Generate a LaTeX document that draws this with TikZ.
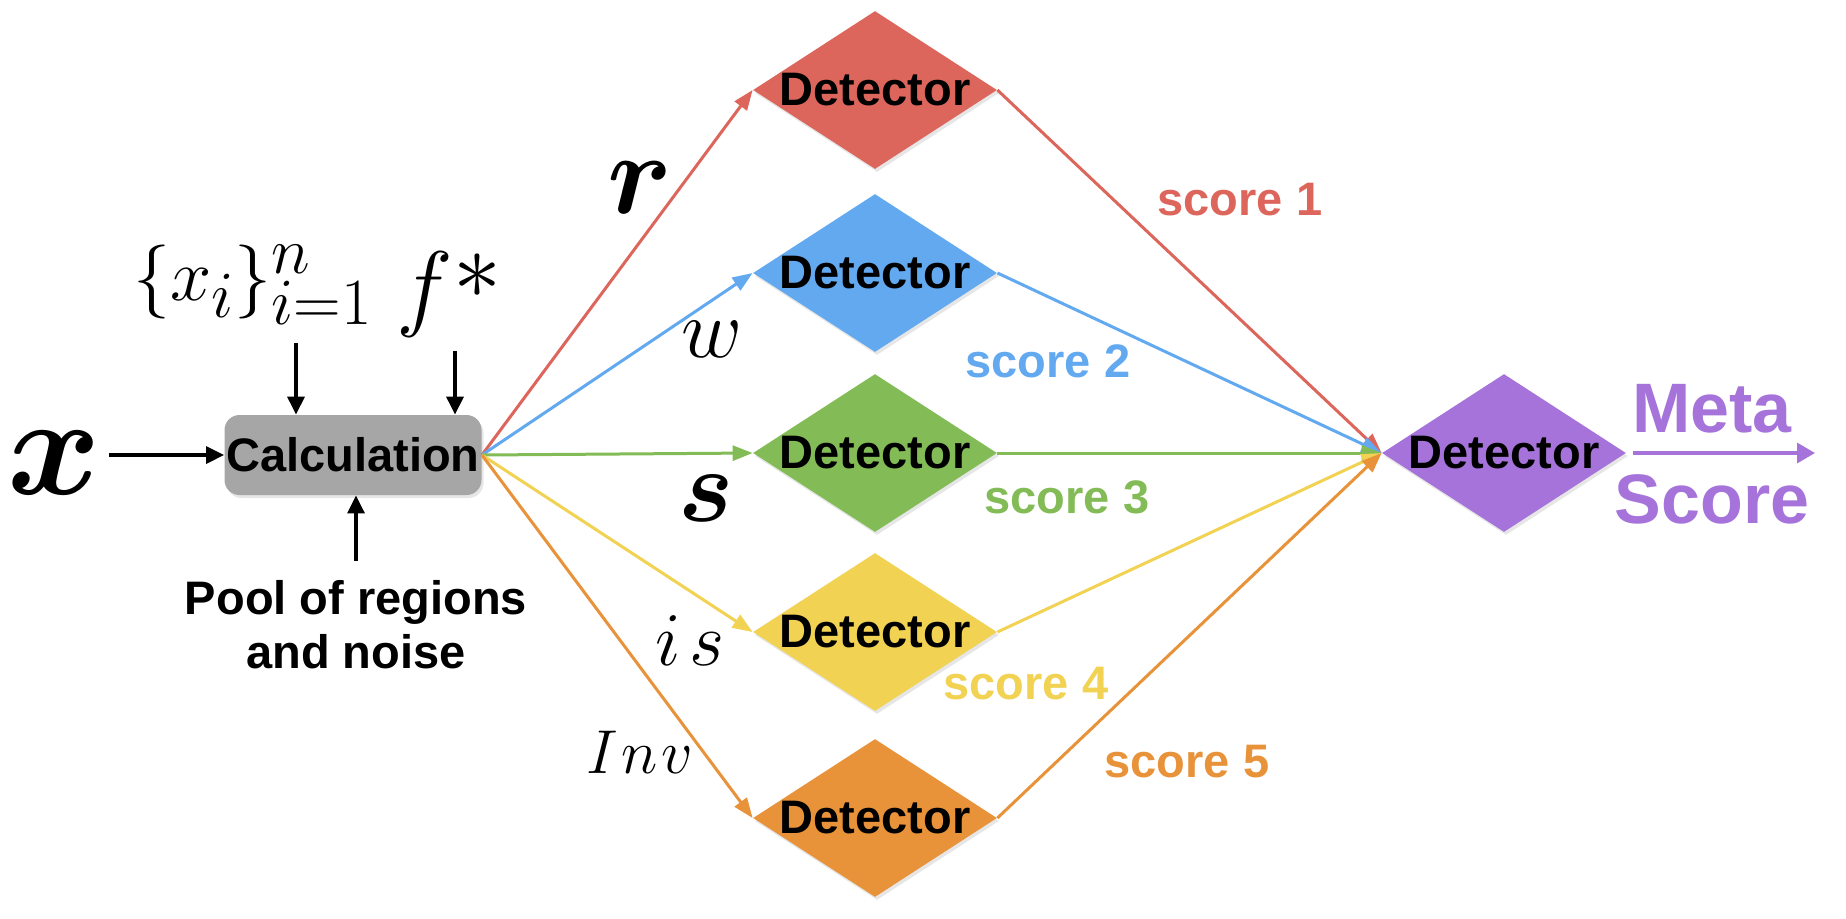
\RequirePackage{fix-cm}
\documentclass[tikz,border=0pt]{standalone}
\usepackage{fontspec}
\usepackage{amsmath, bm}
\usepackage{xcolor}
\setsansfont{Liberation Sans}
\usetikzlibrary{positioning, arrows.meta, shapes.geometric, shadows}
\DeclareMathSizes{37}{37}{33}{27}
\definecolor{detRed}{HTML}{DD665C}
\definecolor{detBlue}{HTML}{62A9F0}
\definecolor{detGreen}{HTML}{83BC56}
\definecolor{detYellow}{HTML}{F1D252}
\definecolor{detOrange}{HTML}{E8923A}
\definecolor{detPurple}{HTML}{A673DA}
\definecolor{calcGray}{HTML}{A5A6A5}
\tikzset{
  every node/.style={font=\sffamily\bfseries\fontsize{23.5}{27}\selectfont},
  arr/.style={-{Triangle[length=10pt,width=7.5pt]}, line width=1.5pt},
  blk/.style={-{Triangle[length=9pt,width=8.5pt]}, line width=1.6pt, black},
  calcbox/.style={rounded corners=7.5pt, fill=calcGray, inner sep=0pt,
                  minimum width=128.5pt, minimum height=40pt,
                  drop shadow={opacity=0.2, shadow xshift=1pt, shadow yshift=-1.5pt}},
  det/.style={diamond, aspect=1.545, inner sep=0pt, minimum width=122pt, minimum height=79pt,
              drop shadow={opacity=0.2, shadow xshift=1pt, shadow yshift=-1.5pt}},
  score/.style={inner sep=0pt},
  mlbl/.style={anchor=base, inner sep=0pt},
  metalbl/.style={inner sep=0pt, text=detPurple, font=\sffamily\bfseries\fontsize{35}{38}\selectfont},
}
\begin{document}
\begin{tikzpicture}[x=0.5pt, y=-0.5pt]
  \useasboundingbox (0,0) rectangle (1846,918);
  % inputs
  \node[calcbox] (calc) at (353,455) {Calculation};
  \node[mlbl, font=\fontsize{71}{71}\selectfont] (xin) at (54,494) {$\bm{x}$};
  \node[mlbl, font=\fontsize{37}{40}\selectfont] (sets) at (253,300) {$\{x_i\}_{i=1}^{n}$};
  \node[mlbl, font=\fontsize{48}{48}\selectfont] (fstar) at (449,318) {$f\raisebox{0.2em}{$\ast$}$};
  \node[align=center, inner xsep=0pt, inner ysep=9.5pt] (pool) at (356,625) {Pool of regions\\and noise};
  \draw[blk, shorten <=4pt] (xin.east |- calc.west) -- (calc.west);
  \draw[blk, shorten <=9pt] ([xshift=21.5pt]sets.south) -- ([xshift=21.5pt]sets.south |- calc.north);
  \draw[blk, shorten <=7pt] ([xshift=3pt]fstar.south) -- ([xshift=3pt]fstar.south |- calc.north);
  \draw[blk] (pool.north) -- (pool.north |- calc.south);
  % detectors
  \node[det, fill=detRed] (dr) at (875,90) {Detector};
  \node[det, fill=detBlue] (dw) at (875,273) {Detector};
  \node[det, fill=detGreen] (ds) at (875,453) {Detector};
  \node[det, fill=detYellow] (dis) at (875,632) {Detector};
  \node[det, fill=detOrange] (dinv) at (875,818) {Detector};
  \node[det, fill=detPurple] (meta) at (1504,453) {Detector};
  \draw[arr, detRed] (calc.east) -- (dr.west);
  \draw[arr, detBlue] (calc.east) -- (dw.west);
  \draw[arr, detGreen] (calc.east) -- (ds.west);
  \draw[arr, detYellow] (calc.east) -- (dis.west);
  \draw[arr, detOrange] (calc.east) -- (dinv.west);
  \draw[arr, detRed] (dr.east) -- (meta.west);
  \draw[arr, detBlue] (dw.east) -- (meta.west);
  \draw[arr, detGreen] (ds.east) -- (meta.west);
  \draw[arr, detYellow] (dis.east) -- (meta.west);
  \draw[arr, detOrange] (dinv.east) -- (meta.west);
  % branch labels
  \node[mlbl, font=\fontsize{58}{58}\selectfont] (lr) at (640,213) {$\bm{r}$};
  \node[mlbl, font=\fontsize{42}{42}\selectfont] (lw) at (712,357) {$w$};
  \node[mlbl, font=\fontsize{52}{52}\selectfont] (ls) at (706,521) {$\bm{s}$};
  \node[mlbl, font=\fontsize{38}{38}\selectfont] (lis) at (690,665) {$i\mkern2mu s$};
  \node[mlbl, font=\fontsize{31}{31}\selectfont] (linv) at (640,773) {$I\mkern1mu n\mkern1mu v$};
  \node[score, text=detRed] (s1) at (1240,200) {score 1};
  \node[score, text=detBlue] (s2) at (1048,361) {score 2};
  \node[score, text=detGreen] (s3) at (1067,497) {score 3};
  \node[score, text=detYellow] (s4) at (1026,684) {score 4};
  \node[score, text=detOrange] (s5) at (1187,762) {score 5};
  % output
  \coordinate (out) at (1815,453);
  \draw[-{Triangle[length=9pt,width=10pt]}, line width=1.7pt, detPurple, shorten <=3.5pt] (meta.east) -- (out);
  \node[metalbl] (metatxt) at (1712,409) {Meta};
  \node[metalbl] (scoretxt) at (1712,499) {Score};
\end{tikzpicture}
\end{document}
